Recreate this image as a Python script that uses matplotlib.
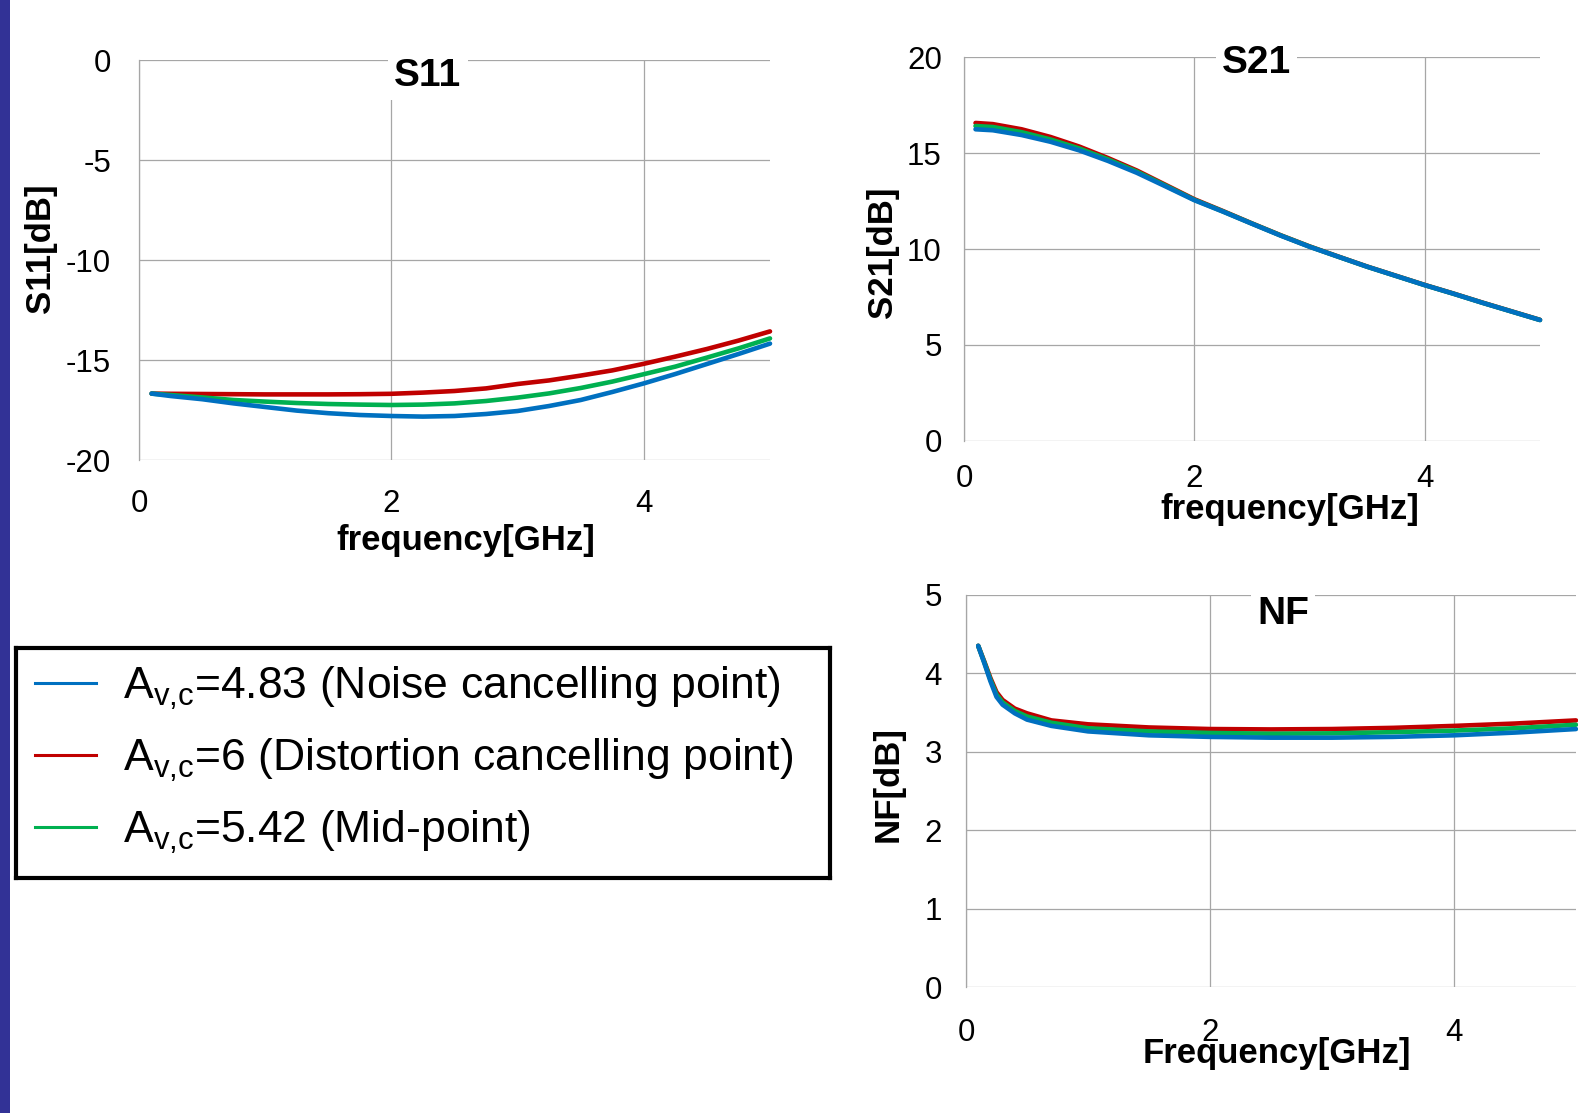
import matplotlib
matplotlib.use("Agg")
import matplotlib.pyplot as plt
from matplotlib.lines import Line2D
from matplotlib.patches import Rectangle

plt.rcParams['font.family'] = ['Liberation Sans', 'DejaVu Sans']
plt.rcParams['mathtext.fontset'] = 'custom'
plt.rcParams['mathtext.rm'] = 'Liberation Sans'
plt.rcParams['axes.unicode_minus'] = False

# ---------------- data ----------------
freq_s = [0.1, 0.25, 0.5, 0.75, 1.0, 1.25, 1.5, 1.75, 2.0, 2.25, 2.5, 2.75,
          3.0, 3.25, 3.5, 3.75, 4.0, 4.25, 4.5, 4.75, 5.0]

s11_noise = [-16.68, -16.80, -16.96, -17.17, -17.35, -17.53, -17.66, -17.75, -17.80, -17.83,
             -17.80, -17.70, -17.55, -17.30, -17.00, -16.60, -16.17, -15.70, -15.20, -14.70, -14.18]
s11_dist = [-16.68, -16.69, -16.70, -16.71, -16.72, -16.72, -16.72, -16.71, -16.69, -16.63,
            -16.55, -16.42, -16.20, -16.02, -15.78, -15.52, -15.19, -14.83, -14.45, -14.03, -13.57]
s11_mid = [-16.68, -16.75, -16.87, -17.00, -17.08, -17.15, -17.20, -17.23, -17.25, -17.23,
           -17.17, -17.05, -16.88, -16.67, -16.40, -16.08, -15.71, -15.33, -14.88, -14.42, -13.92]

s21_noise = [16.25, 16.20, 15.95, 15.60, 15.15, 14.60, 13.98, 13.27, 12.55, 11.95,
             11.32, 10.70, 10.12, 9.60, 9.08, 8.60, 8.12, 7.67, 7.20, 6.75, 6.30]
s21_dist = [16.58, 16.52, 16.25, 15.85, 15.35, 14.75, 14.10, 13.35, 12.60, 11.98,
            11.34, 10.72, 10.14, 9.61, 9.09, 8.61, 8.13, 7.68, 7.21, 6.76, 6.31]
s21_mid = [16.42, 16.37, 16.10, 15.72, 15.25, 14.68, 14.04, 13.31, 12.57, 11.96,
           11.33, 10.71, 10.13, 9.60, 9.08, 8.60, 8.12, 7.67, 7.20, 6.75, 6.30]

freq_nf = [0.1, 0.15, 0.2, 0.25, 0.3, 0.4, 0.5, 0.7, 1.0, 1.5, 2.0, 2.5, 3.0, 3.5, 4.0, 4.5, 5.0]
nf_noise = [4.35, 4.13, 3.90, 3.70, 3.60, 3.49, 3.41, 3.33, 3.26, 3.21, 3.19, 3.18, 3.18, 3.19, 3.21, 3.245, 3.29]
nf_dist = [4.35, 4.15, 3.94, 3.76, 3.66, 3.55, 3.49, 3.40, 3.35, 3.31, 3.29, 3.285, 3.29, 3.305, 3.33, 3.36, 3.40]
nf_mid = [4.35, 4.14, 3.92, 3.73, 3.63, 3.52, 3.45, 3.37, 3.30, 3.26, 3.24, 3.23, 3.235, 3.25, 3.27, 3.30, 3.345]

labels = [r'A$_\mathregular{v{,}c}$=4.83 (Noise cancelling point)',
          r'A$_\mathregular{v{,}c}$=6 (Distortion cancelling point)',
          r'A$_\mathregular{v{,}c}$=5.42 (Mid-point)']
colors = ['#0070C0', '#C00000', '#00B050']  # noise, distortion, mid

xticks = [0, 2, 4]
s11_yticks = [0, -5, -10, -15, -20]
s21_yticks = [0, 5, 10, 15, 20]
nf_yticks = [0, 1, 2, 3, 4, 5]

# ---------------- figure ----------------
W, H = 1578, 1113
fig = plt.figure(figsize=(W / 100, H / 100), dpi=100)


def fx(px):
    return px / W


def fy(py):
    return 1 - py / H


def make_ax(left, right, top, bottom):
    return fig.add_axes([fx(left), fy(bottom), fx(right - left), (bottom - top) / H])


grid_c = '#a6a6a6'


def style(ax, ylim, yticks, xpad, ypad):
    ax.set_xlim(0, 5)
    ax.set_ylim(*ylim)
    ax.set_xticks(xticks)
    ax.set_yticks(yticks)
    for s in ['top', 'right', 'bottom']:
        ax.spines[s].set_visible(False)
    ax.spines['left'].set_color(grid_c)
    ax.spines['left'].set_linewidth(0.9)
    ax.grid(True, color=grid_c, linewidth=0.9)
    ax.tick_params(length=0, labelsize=22.5)
    ax.tick_params(axis='x', pad=xpad)
    ax.tick_params(axis='y', pad=ypad)
    ax.set_axisbelow(True)


def plot3(ax, x, noise, dist, mid):
    ax.plot(x, dist, color=colors[1], lw=3.3, solid_capstyle='round', clip_on=False)
    ax.plot(x, mid, color=colors[2], lw=3.3, solid_capstyle='round', clip_on=False)
    ax.plot(x, noise, color=colors[0], lw=3.3, solid_capstyle='round', clip_on=False)


def title(ax, xdata, baseline_px, top_px, bottom_px, text):
    yfrac = (bottom_px - baseline_px) / (bottom_px - top_px)
    ax.text(xdata, yfrac, text, transform=ax.get_xaxis_transform(), ha='center',
            va='baseline', fontsize=28, fontweight='bold', zorder=5,
            bbox=dict(boxstyle='square,pad=0.16', fc='white', ec='none'))


# S11
ax1 = make_ax(139, 770, 60, 460)
style(ax1, (-20, 0), s11_yticks, 21, 20)
plot3(ax1, freq_s, s11_noise, s11_dist, s11_mid)
title(ax1, 2.29, 86, 60, 460, 'S11')

# S21
ax2 = make_ax(964, 1540, 57.4, 440.8)
style(ax2, (0, 20), s21_yticks, 17, 16)
plot3(ax2, freq_s, s21_noise, s21_dist, s21_mid)
title(ax2, 2.54, 73, 57.4, 440.8, 'S21')

# NF
ax3 = make_ax(966, 1576, 594.8, 987.3)
style(ax3, (0, 5), nf_yticks, 22, 17.5)
plot3(ax3, freq_nf, nf_noise, nf_dist, nf_mid)
title(ax3, 2.6, 623.5, 594.8, 987.3, 'NF')

# axis labels
fig.text(fx(466), fy(550), 'frequency[GHz]', ha='center', va='baseline', fontsize=25, fontweight='bold')
fig.text(fx(1290), fy(519), 'frequency[GHz]', ha='center', va='baseline', fontsize=25, fontweight='bold')
fig.text(fx(1277), fy(1063), 'Frequency[GHz]', ha='center', va='baseline', fontsize=25, fontweight='bold')
fig.text(fx(41), fy(248), 'S11[dB]', ha='center', va='center', rotation=90, fontsize=25, fontweight='bold')
fig.text(fx(883), fy(252.6), 'S21[dB]', ha='center', va='center', rotation=90, fontsize=25, fontweight='bold')
fig.text(fx(888), fy(784), 'NF[dB]', ha='center', va='center', rotation=90, fontsize=25, fontweight='bold')

# legend box
axl = make_ax(16, 830, 648, 878)
axl.set_xticks([])
axl.set_yticks([])
for s in axl.spines.values():
    s.set_linewidth(3)
    s.set_color('black')
handles = [Line2D([], [], color=c, lw=2.2) for c in colors]
axl.legend(handles, labels, loc='upper left', bbox_to_anchor=(19 / 814, 1 - 17 / 230),
           frameon=False, fontsize=32, handlelength=1.37, handletextpad=0.6,
           labelspacing=0.56, borderpad=0, borderaxespad=0)

# left bar
fig.patches.append(Rectangle((0, 0), fx(10), 1, transform=fig.transFigure,
                             facecolor='#323296', edgecolor='none', zorder=10))

fig.savefig('out.png', dpi=100, facecolor='white')
